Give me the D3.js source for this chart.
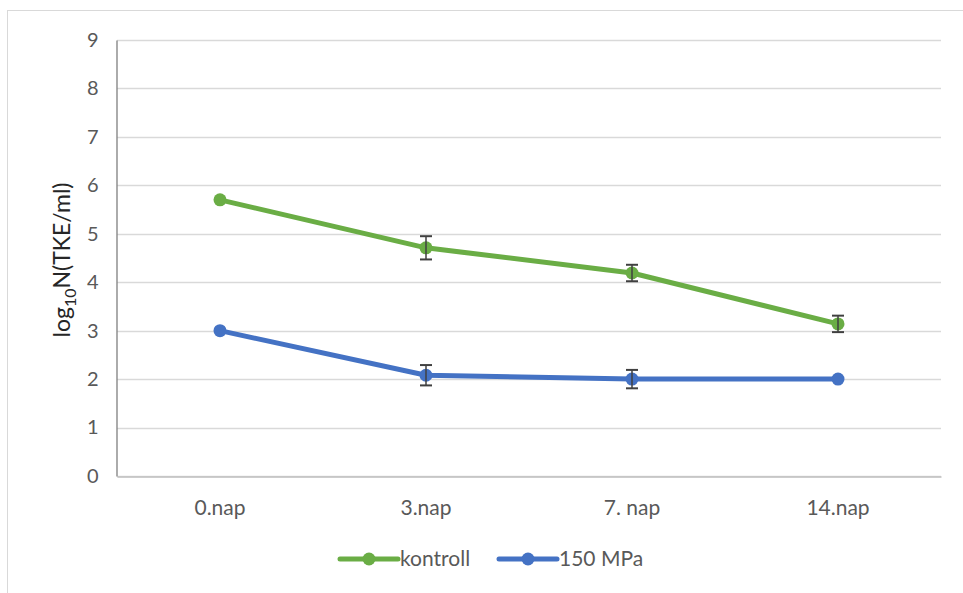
<!DOCTYPE html>
<html>
<head>
<meta charset="utf-8">
<script src="https://cdn.jsdelivr.net/npm/d3@7"></script>
<style>
  html, body { margin: 0; padding: 0; background: #fff; }
  svg { display: block; font-family: Lato, "Open Sans", sans-serif; }
</style>
</head>
<body>
<svg id="chart" width="963" height="593"></svg>
<script>
// Sampling days
const categories = ["0.nap", "3.nap", "7. nap", "14.nap"];

// log10 N (TKE/ml) means and standard deviations
const kontrollValues = [5.70, 4.71, 4.19, 3.14];
const kontrollErrors = [0.00, 0.24, 0.17, 0.17];
const mpaValues = [3.00, 2.08, 2.00, 2.00];
const mpaErrors = [0.00, 0.21, 0.19, 0.00];

const yTicks = [0, 1, 2, 3, 4, 5, 6, 7, 8, 9];

const series = [
  { name: "kontroll", color: "#6aad45", values: kontrollValues, errors: kontrollErrors },
  { name: "150 MPa", color: "#4472c4", values: mpaValues, errors: mpaErrors }
];

const FONT = "Lato, 'Open Sans', sans-serif";
const svg = d3.select("#chart");

// outer chart frame
svg.append("rect")
  .attr("x", 7.5).attr("y", 10.5)
  .attr("width", 962).attr("height", 600)
  .attr("fill", "none").attr("stroke", "#d9d9d9").attr("stroke-width", 1);

const plot = { left: 117, right: 941, top: 40, bottom: 476 };

const x = d3.scaleBand().domain(categories).range([plot.left, plot.right]);
const y = d3.scaleLinear().domain([0, 9]).range([plot.bottom, plot.top]);

// horizontal gridlines
svg.append("g")
  .selectAll("line")
  .data(yTicks)
  .join("line")
  .attr("x1", plot.left).attr("x2", plot.right)
  .attr("y1", d => Math.round(y(d)) + 0.5).attr("y2", d => Math.round(y(d)) + 0.5)
  .attr("stroke", "#d9d9d9").attr("stroke-width", 1.3);

// y axis
const yAxis = svg.append("g")
  .attr("transform", `translate(${plot.left - 0.5},0)`)
  .call(d3.axisLeft(y).tickValues(yTicks).tickSize(0).tickPadding(18));
yAxis.select(".domain").attr("stroke", "#7f7f7f").attr("stroke-width", 1.3);
yAxis.selectAll("text").attr("fill", "#595959").attr("font-size", 20)
  .attr("font-family", FONT);

// x axis
const xAxis = svg.append("g")
  .attr("transform", `translate(0,${Math.round(y(0)) + 0.5})`)
  .call(d3.axisBottom(x).tickSize(0).tickPadding(24));
xAxis.select(".domain").attr("stroke", "#bfbfbf").attr("stroke-width", 1.3);
xAxis.selectAll("text").attr("fill", "#595959").attr("font-size", 21)
  .attr("font-family", FONT);

// y axis title with subscript
const yTitle = svg.append("text")
  .attr("transform", `translate(70,${(plot.top + plot.bottom) / 2 + 2}) rotate(-90)`)
  .attr("text-anchor", "middle")
  .attr("fill", "#262626")
  .attr("font-size", 23);
yTitle.append("tspan").text("log");
yTitle.append("tspan").attr("font-size", 16).attr("dy", 6).text("10");
yTitle.append("tspan").attr("dy", -6).text("N(TKE/ml)");

const cx = c => x(c) + x.bandwidth() / 2;

const line = d3.line()
  .x((d, i) => cx(categories[i]))
  .y(d => y(d));

series.forEach(s => {
  const g = svg.append("g");
  g.append("path")
    .datum(s.values)
    .attr("d", line)
    .attr("fill", "none")
    .attr("stroke", s.color)
    .attr("stroke-width", 5)
    .attr("stroke-linejoin", "round");

  g.selectAll("circle")
    .data(s.values)
    .join("circle")
    .attr("cx", (d, i) => cx(categories[i]))
    .attr("cy", d => y(d))
    .attr("r", 6.5)
    .attr("fill", s.color);

  // error bars
  const eb = g.selectAll(".err")
    .data(s.values.map((v, i) => ({ v, e: s.errors[i], c: categories[i] })).filter(d => d.e > 0))
    .join("g").attr("class", "err");
  eb.append("line")
    .attr("x1", d => cx(d.c)).attr("x2", d => cx(d.c))
    .attr("y1", d => y(d.v + d.e)).attr("y2", d => y(d.v - d.e))
    .attr("stroke", "#404040").attr("stroke-width", 1.5);
  eb.selectAll(".cap")
    .data(d => [d.v + d.e, d.v - d.e].map(val => ({ val, c: d.c })))
    .join("line").attr("class", "cap")
    .attr("x1", d => cx(d.c) - 6).attr("x2", d => cx(d.c) + 6)
    .attr("y1", d => y(d.val)).attr("y2", d => y(d.val))
    .attr("stroke", "#404040").attr("stroke-width", 2);
});

// legend
const legendItems = [
  { s: series[0], x0: 340, textX: 400 },
  { s: series[1], x0: 499, textX: 559 }
];
const legendY = 559;
legendItems.forEach(({ s, x0, textX }) => {
  const g = svg.append("g");
  g.append("line")
    .attr("x1", x0).attr("x2", x0 + 58)
    .attr("y1", legendY).attr("y2", legendY)
    .attr("stroke", s.color).attr("stroke-width", 5).attr("stroke-linecap", "round");
  g.append("circle")
    .attr("cx", x0 + 29).attr("cy", legendY).attr("r", 6.5).attr("fill", s.color);
  g.append("text")
    .attr("x", textX).attr("y", legendY + 7)
    .attr("fill", "#595959").attr("font-size", 21)
    .attr("font-family", FONT)
    .text(s.name);
});
</script>
</body>
</html>
